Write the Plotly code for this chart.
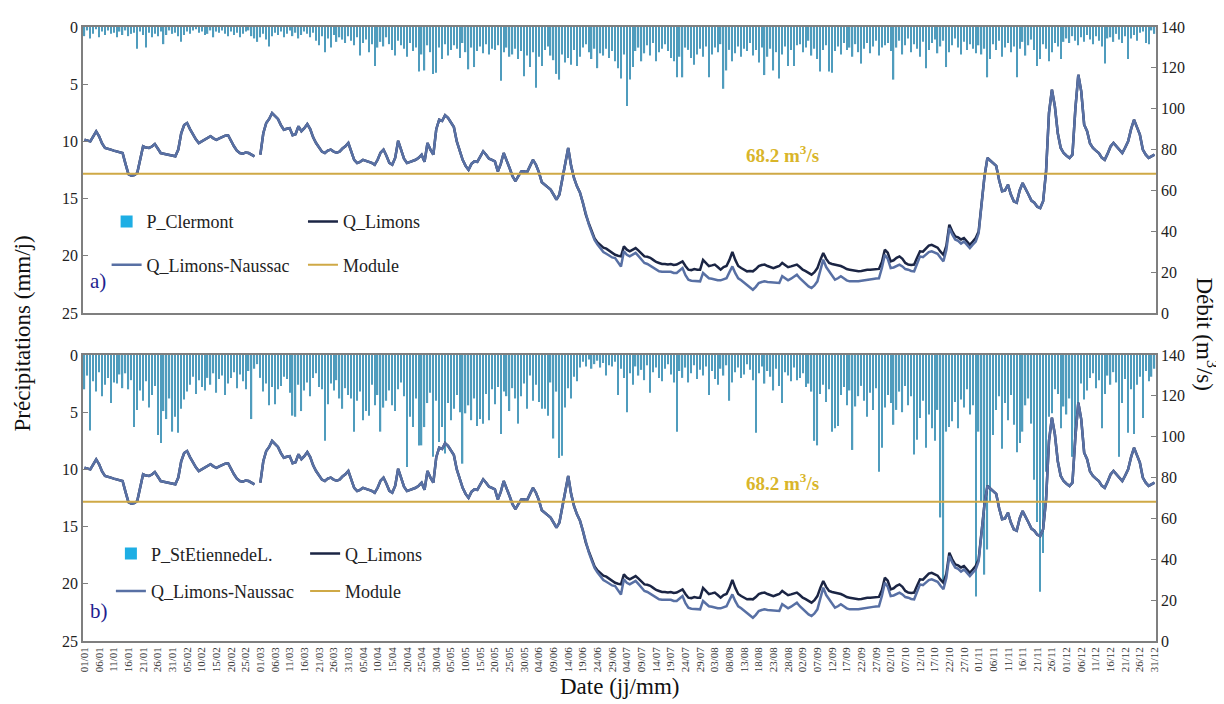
"""
Précipitations journalières et débits de l'Allier aux Limons
"""

import pandas as pd
import plotly.graph_objects as go
from plotly.subplots import make_subplots

# leap year: 01/01 -> 31/12, 366 days
dates = pd.date_range("2012-01-01", "2012-12-31", freq="D")

# daily precipitation (mm/j), one line per month
p_clermont = [
    0.8, 0.3, 1.0, 0.6, 0.2, 0.9, 0.4, 0.7, 0.3, 0.6, 0.5, 0.9, 0.4, 0.7, 0.3, 0.8, 0.6, 0.5, 1.9, 0.4, 0.7, 1.8, 0.5, 0.9, 0.6, 0.8, 0.4, 1.5, 0.7, 0.3, 0.6,
    0.5, 0.8, 1.3, 0.7, 0.4, 0.6, 0.3, 0.2, 0.5, 0.4, 0.7, 0.6, 0.3, 0.9, 0.4, 0.5, 0.3, 0.6, 0.8, 0.4, 0.7, 0.5, 0.9, 0.6, 0.4, 0.3, 0.8, 1.0, 1.3,
    0.9, 0.6, 1.1, 1.7, 0.8, 0.5, 0.7, 0.4, 0.9, 0.6, 0.3, 0.8, 0.5, 1.0, 0.7, 0.4, 0.6, 0.9, 0.5, 1.2, 1.6, 0.8, 2.2, 1.0, 1.8, 0.7, 1.3, 0.9, 1.1, 1.4, 0.8,
    1.2, 1.6, 0.9, 2.5, 1.4, 1.1, 2.2, 1.5, 3.4, 1.8, 1.3, 1.7, 0.9, 1.5, 2.0, 2.5, 1.2, 1.6, 1.9, 2.6, 1.4, 2.1, 1.8, 3.9, 2.4, 3.8, 1.6, 2.2, 4.1, 4.0,
    1.8, 2.8, 1.5, 2.5, 2.0, 1.6, 1.9, 2.7, 1.4, 2.2, 3.7, 1.8, 3.5, 2.1, 1.7, 2.3, 1.5, 2.4, 1.9, 2.0, 1.6, 4.7, 2.2, 1.8, 2.6, 2.4, 1.9, 2.8, 2.1, 4.3, 2.5,
    3.5, 2.2, 5.3, 2.6, 3.4, 2.0, 1.7, 2.5, 2.9, 4.1, 4.6, 2.4, 3.1, 2.7, 3.3, 2.0, 3.4, 2.6, 1.8, 1.5, 2.2, 2.8, 1.9, 3.6, 2.3, 2.5, 1.9, 2.7, 2.1, 3.0,
    3.6, 4.5, 2.4, 6.9, 4.6, 3.5, 2.1, 1.8, 3.0, 2.3, 1.6, 2.5, 1.4, 3.0, 2.2, 1.9, 1.5, 2.1, 2.7, 3.0, 4.4, 2.6, 4.4, 1.8, 2.0, 2.7, 3.3, 2.4, 1.9, 2.6, 1.7,
    4.4, 2.4, 1.8, 2.2, 1.5, 5.4, 3.8, 2.0, 3.0, 2.3, 1.7, 2.6, 1.9, 2.1, 1.4, 2.5, 2.0, 3.1, 1.8, 4.2, 2.6, 1.9, 3.8, 2.2, 4.5, 2.4, 1.7, 3.4, 2.0, 3.4, 1.6,
    1.5, 2.2, 1.8, 1.2, 2.5, 1.9, 2.8, 3.9, 2.0, 1.6, 3.9, 4.0, 2.1, 1.7, 2.4, 1.4, 2.0, 1.8, 2.6, 1.5, 2.2, 3.2, 1.9, 1.4, 2.3, 1.7, 1.2, 2.5, 1.8, 1.6,
    1.4, 2.1, 4.6, 1.8, 1.2, 2.4, 1.6, 1.0, 2.2, 1.5, 1.9, 2.6, 1.3, 3.6, 2.0, 1.4, 1.1, 2.3, 1.7, 1.2, 3.5, 2.2, 1.6, 1.0, 1.8, 2.4, 1.3, 2.0, 1.5, 1.9, 2.3,
    1.6, 2.4, 1.9, 4.4, 2.8, 1.5, 2.0, 1.2, 2.6, 1.8, 1.4, 2.2, 1.7, 4.4, 1.9, 1.3, 2.5, 1.6, 1.1, 2.0, 3.4, 2.8, 1.5, 1.9, 3.0, 2.2, 1.4, 1.7, 2.8, 1.3,
    1.0, 1.4, 0.8, 1.2, 1.6, 0.9, 1.3, 0.7, 1.1, 1.5, 0.8, 1.2, 1.7, 3.2, 1.0, 0.9, 1.3, 0.6, 1.1, 1.4, 0.8, 2.8, 1.0, 0.7, 1.2, 0.5, 0.4, 1.4, 1.5, 0.3, 0.6,
]

p_stetienne = [
    3.0, 1.8, 6.6, 2.3, 3.2, 1.5, 3.6, 2.6, 2.0, 4.2, 2.4, 2.5, 1.7, 2.9, 1.6, 3.0, 2.2, 6.3, 4.8, 3.1, 4.0, 2.3, 4.6, 3.5, 2.7, 7.0, 7.7, 4.9, 5.6, 3.8, 6.7,
    5.4, 6.8, 4.7, 3.9, 3.2, 2.6, 1.9, 3.4, 2.2, 2.8, 3.1, 2.0, 2.6, 1.6, 3.3, 2.1, 1.8, 3.5, 2.5, 2.0, 1.5, 2.9, 1.7, 2.3, 3.0, 1.4, 5.6, 1.2, 0.8,
    2.0, 3.2, 2.5, 4.4, 2.8, 4.3, 3.0, 2.7, 1.9, 2.1, 3.3, 5.3, 5.4, 2.6, 4.9, 3.1, 2.4, 3.6, 2.0, 1.6, 2.8, 3.0, 7.5, 4.3, 2.5, 3.1, 2.2, 3.8, 4.7, 2.9, 3.5,
    3.8, 6.7, 4.0, 3.2, 5.7, 4.9, 5.3, 2.6, 4.4, 3.5, 6.7, 4.6, 4.0, 3.1, 4.4, 4.9, 3.0, 2.4, 3.6, 9.8, 5.4, 6.3, 3.8, 7.9, 7.9, 6.3, 4.2, 3.3, 8.9, 4.0,
    7.6, 6.3, 8.6, 4.2, 5.7, 4.7, 3.5, 5.0, 9.5, 5.1, 4.4, 5.7, 3.8, 6.2, 5.6, 6.0, 3.4, 5.7, 3.0, 4.3, 2.8, 6.9, 3.2, 3.6, 4.9, 2.9, 3.8, 6.0, 3.6, 2.5, 4.7,
    1.8, 4.0, 2.6, 4.1, 4.7, 4.7, 5.3, 2.4, 7.3, 3.2, 9.0, 8.8, 4.6, 2.9, 3.8, 1.9, 2.3, 1.1, 0.6, 1.0, 0.4, 1.2, 0.8, 0.5, 1.1, 0.7, 1.8, 0.9, 1.0, 0.6,
    3.5, 1.2, 2.0, 5.0, 1.6, 2.6, 1.0, 1.8, 1.3, 2.2, 0.9, 3.3, 1.5, 1.1, 2.0, 2.3, 1.2, 0.8, 1.7, 2.4, 6.7, 1.4, 2.0, 1.1, 2.4, 1.6, 0.9, 2.1, 1.3, 1.8, 1.0,
    3.5, 1.4, 2.1, 2.6, 1.2, 1.8, 0.9, 4.0, 2.4, 1.5, 1.1, 2.0, 1.7, 0.8, 1.3, 2.2, 6.8, 1.6, 1.0, 2.5, 1.4, 1.9, 3.1, 1.2, 2.7, 4.2, 1.5, 1.8, 2.3, 1.1, 2.2,
    2.0, 1.6, 2.8, 2.5, 3.2, 7.5, 7.9, 3.4, 2.6, 4.1, 3.0, 6.7, 6.4, 6.2, 3.5, 2.8, 4.4, 3.1, 8.3, 4.5, 3.6, 2.7, 4.0, 5.4, 3.3, 4.8, 2.9, 10.2, 8.1, 4.6,
    3.5, 4.2, 6.1, 4.8, 3.2, 5.0, 2.7, 4.4, 3.6, 8.7, 7.4, 5.5, 4.0, 8.1, 5.2, 6.4, 7.5, 4.8, 14.2, 19.8, 6.7, 6.3, 5.8, 4.1, 6.4, 3.9, 4.6, 3.0, 5.2, 4.4, 21.1,
    6.7, 12.8, 19.2, 17.0, 12.8, 7.0, 4.8, 3.6, 8.2, 4.2, 5.7, 3.5, 6.1, 8.5, 7.7, 6.7, 4.4, 3.8, 6.0, 10.9, 14.6, 20.7, 17.3, 10.2, 5.4, 5.1, 3.0, 3.4, 6.4, 4.5,
    5.2, 3.8, 8.9, 8.2, 4.7, 2.5, 3.9, 3.1, 2.0, 1.6, 2.9, 2.2, 6.4, 3.4, 1.8, 2.6, 1.5, 2.4, 8.9, 4.2, 2.1, 6.8, 3.0, 6.9, 2.6, 1.9, 5.5, 1.4, 2.3, 1.9, 1.2,
]

# daily discharge at Les Limons (m3/s); None = missing day
q_limons = [
    84.8, 84.5, 84, 86.5, 88.9, 86.5, 83, 80.8, 80.5, 80, 79.5, 79, 78.6, 78.3, 73, 68, 67.2, 67.5, 68.5, 76, 81.6, 81, 80.8, 81.5, 82.7, 80.5, 78.3, 78, 77.6, 77.2, 76.9,
    76.7, 80, 88, 92, 93, 90, 87.3, 85, 83.2, 84, 84.8, 85.5, 86.5, 85.5, 84.8, 85.5, 86.2, 86.8, 87, 84, 81.6, 79.5, 78.3, 78, 78.6, 78.3, 77.5, 76.7, None,
    77.5, 88, 93, 95, 97.9, 96.5, 95, 92, 89.7, 90.2, 90.5, 87, 87.5, 91.4, 89, 90.5, 92.5, 90, 86, 83.2, 81, 79, 78.3, 79.5, 80, 79, 78.5, 79, 80.5, 81.6, 83.2,
    79, 75, 73.4, 74, 75, 74.5, 74, 73.5, 72.6, 75, 78.5, 80, 77, 73.5, 72.6, 76, 84.3, 80, 75.5, 73.4, 74, 74.5, 75, 76, 77.5, 74, 83.2, 80, 77.5, 90,
    94.6, 94, 96.8, 95.5, 93, 91, 84, 79, 75, 72, 70.1, 73, 74.2, 74, 76.5, 79.1, 77.5, 75.5, 75, 74.2, 69.3, 73, 78.3, 75, 71, 67, 64.5, 67, 69.3, 69.3, 69,
    72, 75, 72.6, 69, 64, 62.8, 61.5, 60.4, 58, 55.5, 58, 65, 73, 80.8, 72, 66, 62, 59, 54, 48.1, 44, 40, 36.5, 34.5, 33, 32, 31.5, 30.5, 29.5, 28.5,
    28, 27.7, 32.6, 31, 30.2, 30.8, 31.8, 30.5, 29, 27.7, 27.5, 27, 26, 25, 24.5, 24, 24, 23.7, 24, 23.5, 23.7, 24.5, 25.3, 23, 21.2, 21, 21.5, 21.2, 21.2, 26, 24.5,
    23, 23.3, 23.7, 22.5, 21.2, 22.5, 23, 26, 29.9, 26, 23, 22, 21, 20.4, 20.6, 20.4, 21.5, 23, 23.5, 23.7, 23, 22.5, 22, 22.5, 23, 24.5, 23.5, 22.4, 22.8, 23.3, 23.7,
    22.5, 21.2, 20.5, 19.5, 18.8, 20, 22, 26, 29.4, 26.5, 24.5, 24, 23.7, 23.3, 23, 22.3, 21.5, 21.2, 21, 20.7, 20.4, 20.6, 21, 21.2, 21.2, 21.4, 21.5, 21.6, 25, 31,
    29.5, 25.3, 25.8, 27, 27.7, 26.5, 24.5, 23.7, 23.5, 23.7, 27, 30.2, 30, 31.5, 33, 33.4, 32.8, 32, 30, 28.5, 33, 43.2, 40, 37.5, 37, 36, 36.7, 35, 33.4, 35, 36.7,
    39.9, 55, 67, 75.9, 74.5, 73, 72, 65, 59.6, 60, 62.8, 58, 54.7, 54, 60, 63.6, 61, 58, 55, 54, 52, 51.4, 54.7, 69.3, 98, 109.3, 101.2, 88, 80.8, 78.3,
    77, 75.9, 77.5, 100, 116.6, 108.5, 92.2, 89, 83, 80.8, 79.5, 78.3, 76, 75, 78, 81.5, 83.2, 81.5, 80, 78.3, 81, 84, 90, 94.6, 91, 87.3, 80, 77.5, 75.9, 76.5, 77.5,
]

# Limons minus Naussac releases: differs from Q_Limons only 21/06 -> 01/11
q_ln_low_flow = [
    43.5, 39.5, 35.8, 33.5, 31.5, 29.8, 29, 28, 27.2, 26.9,
    24.5, 22.8, 30.2, 28.5, 27.7, 28.4, 29.4, 27.8, 26, 24.5, 24, 23, 22, 21, 20.4, 20.2, 20.3, 20.4, 20.2, 19.6, 19.6, 20.8, 22, 18.5, 16.3, 15.8, 15.6, 15.5, 15.5, 19.6, 18.5,
    17, 16.8, 16.3, 16, 16, 16.5, 17, 20, 22.8, 19.5, 17, 16, 14.8, 13.9, 12.5, 11.4, 12.8, 14.7, 15.2, 15.5, 15.2, 15, 15, 14.8, 14.7, 18, 17, 16, 16.8, 17.8, 18.8,
    17, 15.5, 14.2, 13, 12.2, 13.5, 15.5, 21.5, 26.1, 22.5, 20.4, 18, 16.3, 17, 18, 17, 16, 15.5, 15.4, 15.5, 15.5, 15.8, 16.1, 16.3, 16.5, 16.7, 16.9, 17, 22, 28.5,
    26.5, 22, 22.3, 23, 23.7, 22.8, 21.5, 21.2, 20.6, 20.4, 24, 27.7, 27.3, 28.5, 29.8, 30.2, 29.6, 29, 27, 25.3, 31, 41.6, 38.5, 36, 35.3, 34, 35, 33.5, 31.8, 33.5, 35,
    39,
]
q_limons_naussac = q_limons[:172] + q_ln_low_flow + q_limons[306:]

MODULE = 68.2
tick_dates = dates[::5]

SERIF = "Liberation Serif"
BAR_COLOR = "#4f9cbd"
SWATCH_COLOR = "#1eaee4"
QL_COLOR = "#1b2544"
QLN_COLOR = "#5870a4"
MODULE_COLOR = "#cfa946"

x_range = [dates[0] - pd.Timedelta(hours=12), dates[-1] + pd.Timedelta(hours=12)]

fig = make_subplots(
    rows=2, cols=1, shared_xaxes=True, vertical_spacing=0.068,
    specs=[[{"secondary_y": True}], [{"secondary_y": True}]],
)

panels = [
    (1, "P_Clermont", p_clermont, ("legend", "legend2")),
    (2, "P_StEtiennedeL.", p_stetienne, ("legend3", "legend4")),
]

for row, p_name, p_vals, (leg_a, leg_b) in panels:
    fig.add_trace(go.Bar(
        x=dates, y=p_vals, width=0.45 * 86400000,
        marker=dict(color=BAR_COLOR, line=dict(width=0)),
        showlegend=False, hoverinfo="x+y",
    ), row=row, col=1, secondary_y=False)
    # legend swatch for the precipitation bars
    fig.add_trace(go.Bar(
        x=[dates[0]], y=[0], name=p_name, legend=leg_a, legendgroup=f"p{row}",
        marker=dict(color=SWATCH_COLOR, line=dict(width=0)),
    ), row=row, col=1, secondary_y=False)
    fig.add_trace(go.Scatter(
        x=dates, y=q_limons, mode="lines", name="Q_Limons",
        legend=leg_b, legendgroup=f"ql{row}",
        line=dict(color=QL_COLOR, width=2.5),
    ), row=row, col=1, secondary_y=True)
    fig.add_trace(go.Scatter(
        x=dates, y=q_limons_naussac, mode="lines", name="Q_Limons-Naussac",
        legend=leg_a, legendgroup=f"qln{row}",
        line=dict(color=QLN_COLOR, width=2.5),
    ), row=row, col=1, secondary_y=True)
    fig.add_trace(go.Scatter(
        x=x_range, y=[MODULE, MODULE], mode="lines", name="Module",
        legend=leg_b, legendgroup=f"m{row}",
        line=dict(color=MODULE_COLOR, width=2),
    ), row=row, col=1, secondary_y=True)

axis_line = dict(showline=True, linecolor="#7f7f7f", linewidth=1.5, mirror=True, showgrid=False, zeroline=False)

fig.update_xaxes(
    type="date", range=x_range, tickvals=tick_dates,
    ticktext=[d.strftime("%d/%m") for d in tick_dates], tickangle=-90,
    tickfont=dict(family=SERIF, size=11, color="#333"), ticks="", **axis_line,
)
fig.update_xaxes(showticklabels=False, row=1, col=1)

fig.update_yaxes(
    range=[25, 0], tickvals=[0, 5, 10, 15, 20, 25], ticks="inside", ticklen=5,
    tickcolor="#7f7f7f", tickfont=dict(family=SERIF, size=16, color="#222"),
    secondary_y=False, **axis_line,
)
fig.update_yaxes(
    range=[0, 140], tickvals=list(range(0, 141, 20)), ticks="inside", ticklen=5,
    tickcolor="#7f7f7f", tickfont=dict(family=SERIF, size=16, color="#222"),
    showline=True, linecolor="#7f7f7f", linewidth=1.5, showgrid=False, zeroline=False,
    secondary_y=True,
)

fig.update_layout(
    xaxis=dict(domain=[0, 1]), xaxis2=dict(domain=[0, 1]),
    yaxis=dict(domain=[0.5342, 1]), yaxis3=dict(domain=[0, 0.4658]),
)

legend_style = dict(
    bgcolor="rgba(0,0,0,0)", xanchor="left", yanchor="top", orientation="v",
    font=dict(family=SERIF, size=18, color="#222"), itemwidth=30,
)
fig.update_layout(
    legend=dict(x=0.022, y=0.713, tracegroupgap=17, **legend_style),
    legend2=dict(x=0.205, y=0.713, tracegroupgap=17, **legend_style),
    legend3=dict(x=0.026, y=0.172, tracegroupgap=11, **legend_style),
    legend4=dict(x=0.207, y=0.172, tracegroupgap=11, **legend_style),
)

module_date = pd.Timestamp("2012-08-26")
annotations = [
    dict(x=module_date, y=MODULE, xref="x", yref="y2", text="68.2 m<sup>3</sup>/s",
         showarrow=False, yanchor="bottom", yshift=6,
         font=dict(family=SERIF, size=19, color="#d9b52a", weight="bold")),
    dict(x=module_date, y=MODULE, xref="x2", yref="y4", text="68.2 m<sup>3</sup>/s",
         showarrow=False, yanchor="bottom", yshift=6,
         font=dict(family=SERIF, size=19, color="#d9b52a", weight="bold")),
    dict(x=0.005, y=0.586, xref="paper", yref="paper", text="a)", showarrow=False,
         xanchor="left", font=dict(family=SERIF, size=21, color="#1f1f8f")),
    dict(x=0.005, y=0.026, xref="paper", yref="paper", text="b)", showarrow=False,
         xanchor="left", font=dict(family=SERIF, size=21, color="#1f1f8f")),
    dict(x=0, y=0.5, xref="paper", yref="paper", text="Précipitations (mm/j)",
         showarrow=False, textangle=-90, xshift=-76,
         font=dict(family=SERIF, size=23, color="#111")),
    dict(x=1, y=0.5, xref="paper", yref="paper", text="Débit (m<sup>3</sup>/s)",
         showarrow=False, textangle=90, xshift=67,
         font=dict(family=SERIF, size=23, color="#111")),
    dict(x=0.5, y=0, xref="paper", yref="paper", text="Date (jj/mm)",
         showarrow=False, yshift=-60,
         font=dict(family=SERIF, size=23, color="#111")),
]

fig.update_layout(
    annotations=annotations,
    width=1224, height=704,
    margin=dict(l=75, r=76, t=19, b=71),
    paper_bgcolor="white", plot_bgcolor="white",
    font=dict(family=SERIF, color="#222"),
    barmode="overlay",
)

fig.write_html("out.html")
